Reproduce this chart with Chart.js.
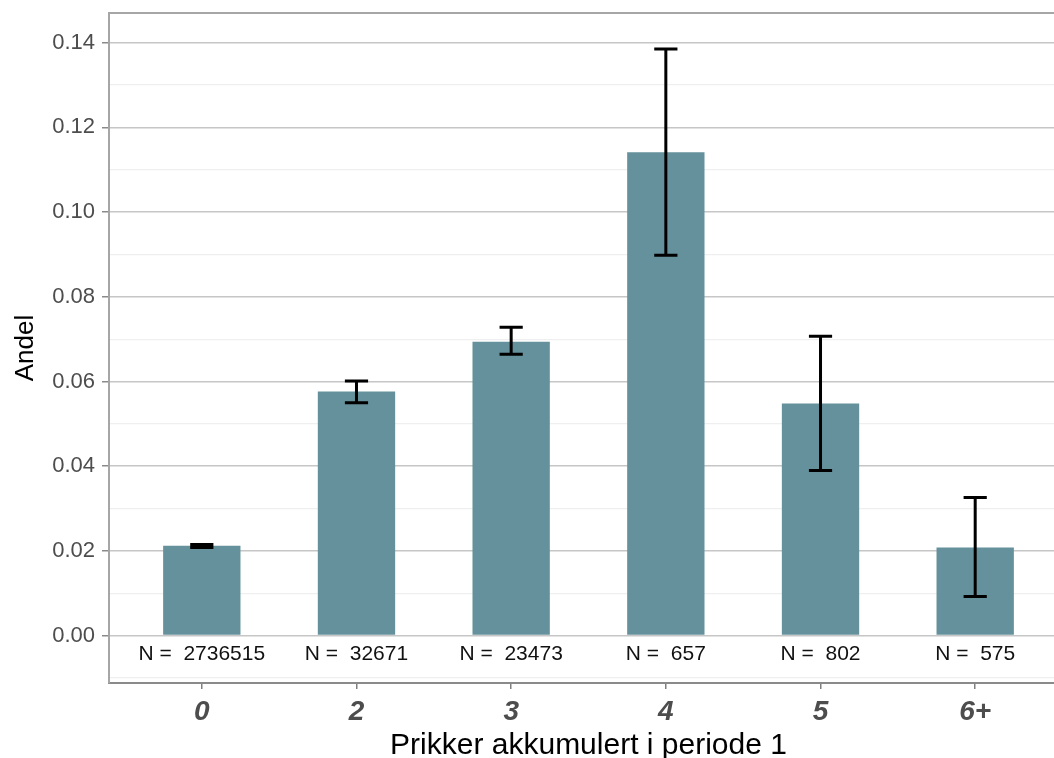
<!DOCTYPE html>
<html><head><meta charset="utf-8">
<script src="https://cdn.jsdelivr.net/npm/chart.js@4/dist/chart.umd.min.js"></script>
<style>
html,body{margin:0;padding:0;background:#fff;overflow:hidden;}
#wrap{width:1090px;height:758px;position:relative;}
</style></head><body>
<div id="wrap"><canvas id="c" width="1090" height="758"></canvas></div>
<script>
const categories = ['0', '2', '3', '4', '5', '6+'];
const shares  = [0.0212, 0.0576, 0.0694, 0.1141, 0.0548, 0.0208];
const lowerCI = [0.0208, 0.0550, 0.0664, 0.0898, 0.0390, 0.0092];
const upperCI = [0.0215, 0.0601, 0.0728, 0.1385, 0.0707, 0.0326];
const counts  = [2736515, 32671, 23473, 657, 802, 575];
const yMajorTicks = [0, 0.02, 0.04, 0.06, 0.08, 0.10, 0.12, 0.14];
const yMinorTicks = [-0.01, 0.01, 0.03, 0.05, 0.07, 0.09, 0.11, 0.13];

const FONT = "'Liberation Sans', Arial, sans-serif";
const allTicks = yMinorTicks.concat(yMajorTicks).sort((a, b) => a - b);
const isMajor = v => yMajorTicks.includes(v);

const extras = {
  id: 'extras',
  afterDatasetsDraw(chart) {
    const {ctx, chartArea, scales: {x, y}} = chart;
    ctx.save();
    // panel top/right border
    ctx.strokeStyle = '#a6a6a6';
    ctx.lineWidth = 2;
    ctx.beginPath();
    ctx.moveTo(chartArea.left, chartArea.top);
    ctx.lineTo(chartArea.right, chartArea.top);
    ctx.lineTo(chartArea.right, chartArea.bottom);
    ctx.stroke();
    // error bars
    const half = Math.abs(x.getPixelForValue(0.075) - x.getPixelForValue(0));
    ctx.strokeStyle = '#000';
    ctx.lineWidth = 3;
    ctx.lineCap = 'butt';
    categories.forEach((c, i) => {
      const px = x.getPixelForValue(i);
      const yl = y.getPixelForValue(lowerCI[i]);
      const yu = y.getPixelForValue(upperCI[i]);
      ctx.beginPath();
      ctx.moveTo(px, yl); ctx.lineTo(px, yu);
      ctx.moveTo(px - half, yu); ctx.lineTo(px + half, yu);
      ctx.moveTo(px - half, yl); ctx.lineTo(px + half, yl);
      ctx.stroke();
    });
    // N labels
    ctx.fillStyle = '#111';
    ctx.font = '21px ' + FONT;
    ctx.textAlign = 'center';
    ctx.textBaseline = 'middle';
    const ny = y.getPixelForValue(0) + 19;
    categories.forEach((c, i) => {
      ctx.fillText('N =  ' + counts[i], x.getPixelForValue(i), ny);
    });
    ctx.restore();
  }
};

new Chart(document.getElementById('c'), {
  type: 'bar',
  data: {
    datasets: [{
      data: shares.map((v, i) => ({x: i, y: v})),
      backgroundColor: '#64919c',
      borderWidth: 0,
      barPercentage: 0.5,
      categoryPercentage: 1.0
    }]
  },
  options: {
    responsive: false,
    animation: false,
    layout: {padding: {top: 13, right: 22, left: 0, bottom: 0}},
    plugins: {legend: {display: false}, tooltip: {enabled: false}},
    scales: {
      x: {
        type: 'linear', min: -0.6, max: 5.6, offset: false,
        afterBuildTicks: s => { s.ticks = categories.map((c, i) => ({value: i})); },
        afterFit: s => { s.height = 75; s.paddingLeft = 0; s.paddingRight = 0; },
        ticks: {
          callback: v => categories[v],
          font: {family: FONT, size: 28, style: 'italic', weight: 'bold'},
          color: '#4d4d4d', padding: 6, maxRotation: 0, autoSkip: false
        },
        grid: {drawOnChartArea: false, offset: false, tickLength: 6, tickColor: '#808080', lineWidth: 1.5},
        border: {display: true, color: '#8a8a8a', width: 2},
        title: {display: true, text: 'Prikker akkumulert i periode 1', color: '#000',
                font: {family: FONT, size: 30, lineHeight: 0.85}, padding: 0}
      },
      y: {
        type: 'linear', min: -0.0112, max: 0.147,
        afterBuildTicks: s => { s.ticks = allTicks.map(v => ({value: v})); },
        afterFit: s => { s.width = 109; s.paddingTop = 0; s.paddingBottom = 0; },
        ticks: {
          callback: v => isMajor(v) ? v.toFixed(2) : '',
          color: '#4d4d4d', font: {family: FONT, size: 22}, padding: 7
        },
        grid: {
          color: c => isMajor(c.tick.value) ? '#c6c6c6' : '#efefef',
          lineWidth: c => isMajor(c.tick.value) ? 1.5 : 1.2,
          tickColor: c => isMajor(c.tick.value) ? '#8a8a8a' : 'rgba(0,0,0,0)',
          tickLength: 7
        },
        border: {display: true, color: '#a6a6a6', width: 2},
        title: {display: true, text: 'Andel', color: '#000',
                font: {family: FONT, size: 26}, padding: {top: 10, bottom: 0}}
      }
    }
  },
  plugins: [extras]
});
</script>
</body></html>
